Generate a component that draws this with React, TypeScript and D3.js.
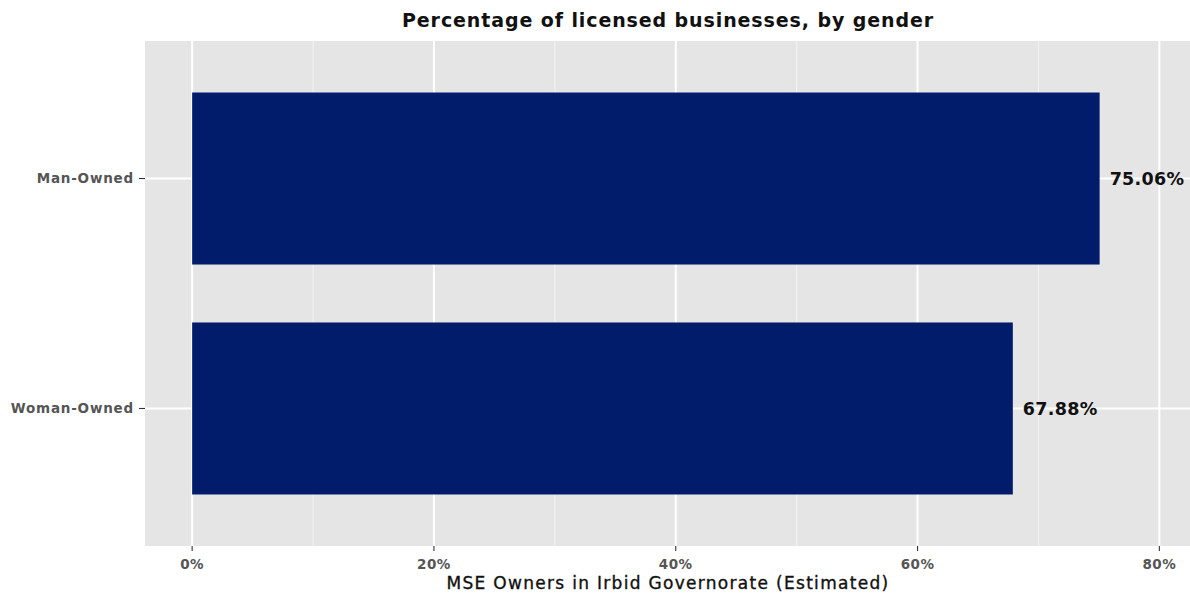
import React, { useEffect, useRef } from 'react';
import * as d3 from 'd3';

const categories = ['Man-Owned', 'Woman-Owned'];
const values = [75.06, 67.88];
const valueLabels = ['75.06%', '67.88%'];
const xTicks = [0, 20, 40, 60, 80];
const xMinor = [10, 30, 50, 70];

const title = 'Percentage of licensed businesses, by gender';
const xTitle = 'MSE Owners in Irbid Governorate (Estimated)';

const App = () => {
  const ref = useRef<SVGSVGElement | null>(null);

  useEffect(() => {
    if (!ref.current) return;
    const width = 1190, height = 596;
    const left = 145, right = 1192, top = 41, bottom = 546;
    const font = "'DejaVu Sans', sans-serif";

    const svg = d3.select(ref.current);
    svg.selectAll('*').remove();

    const x = d3.scaleLinear().domain([-3.9, 82.7]).range([left, right]);
    const y = d3.scaleBand().domain(categories).range([top, bottom]).paddingInner(0.252).paddingOuter(0.224);

    svg.append('rect').attr('x', 0).attr('y', 0).attr('width', width).attr('height', height).attr('fill', '#fff');
    svg.append('rect').attr('x', left).attr('y', top).attr('width', right - left).attr('height', bottom - top).attr('fill', '#e5e5e5');

    // grid
    svg.selectAll('line.minor').data(xMinor).enter().append('line')
      .attr('x1', d => x(d)).attr('x2', d => x(d)).attr('y1', top).attr('y2', bottom)
      .attr('stroke', '#f2f2f2').attr('stroke-width', 1.1);
    svg.selectAll('line.major').data(xTicks).enter().append('line')
      .attr('x1', d => x(d)).attr('x2', d => x(d)).attr('y1', top).attr('y2', bottom)
      .attr('stroke', '#fff').attr('stroke-width', 2);
    svg.selectAll('line.hgrid').data(categories).enter().append('line')
      .attr('x1', left).attr('x2', right)
      .attr('y1', d => y(d)! + y.bandwidth() / 2).attr('y2', d => y(d)! + y.bandwidth() / 2)
      .attr('stroke', '#fff').attr('stroke-width', 2);

    // bars
    svg.selectAll('rect.bar').data(values).enter().append('rect')
      .attr('x', x(0)).attr('y', (d, i) => y(categories[i])!)
      .attr('width', d => x(d) - x(0)).attr('height', y.bandwidth())
      .attr('fill', '#001c6b');

    svg.selectAll('text.val').data(values).enter().append('text')
      .attr('x', d => x(d) + 10).attr('y', (d, i) => y(categories[i])! + y.bandwidth() / 2)
      .attr('dy', '0.36em').attr('font-family', font).attr('font-size', 17.5).attr('font-weight', 'bold')
      .attr('letter-spacing', 0.3).attr('fill', '#111').text((d, i) => valueLabels[i]);

    // y axis
    categories.forEach(c => {
      const cy = y(c)! + y.bandwidth() / 2;
      svg.append('line').attr('x1', left - 6).attr('x2', left).attr('y1', cy).attr('y2', cy)
        .attr('stroke', '#333').attr('stroke-width', 1.1);
      svg.append('text').attr('x', left - 11).attr('y', cy).attr('dy', '0.36em')
        .attr('text-anchor', 'end').attr('font-family', font).attr('font-size', 13.5).attr('font-weight', 'bold')
        .attr('letter-spacing', 0.8).attr('fill', '#555').text(c);
    });

    // x axis
    xTicks.forEach(t => {
      svg.append('line').attr('x1', x(t)).attr('x2', x(t)).attr('y1', bottom).attr('y2', bottom + 5)
        .attr('stroke', '#333').attr('stroke-width', 1.1);
      svg.append('text').attr('x', x(t)).attr('y', bottom + 18).attr('dy', '0.36em')
        .attr('text-anchor', 'middle').attr('font-family', font).attr('font-size', 13.5).attr('font-weight', 'bold')
        .attr('letter-spacing', 0.5).attr('fill', '#555').text(`${t}%`);
    });

    svg.append('text').attr('x', 668).attr('y', 583).attr('dy', '0.36em')
      .attr('text-anchor', 'middle').attr('font-family', font).attr('font-size', 17)
      .attr('letter-spacing', 1.3).attr('fill', '#111').attr('stroke', '#111').attr('stroke-width', 0.35)
      .text(xTitle);

    svg.append('text').attr('x', 668).attr('y', 20).attr('dy', '0.36em')
      .attr('text-anchor', 'middle').attr('font-family', font).attr('font-size', 19)
      .attr('font-weight', 'bold').attr('letter-spacing', 0.9).attr('fill', '#111').text(title);
  }, []);

  return (
    <svg ref={ref} width={1190} height={596}
      style={{ position: 'absolute', left: 0, top: 0, display: 'block' }} />
  );
};

export default App;
